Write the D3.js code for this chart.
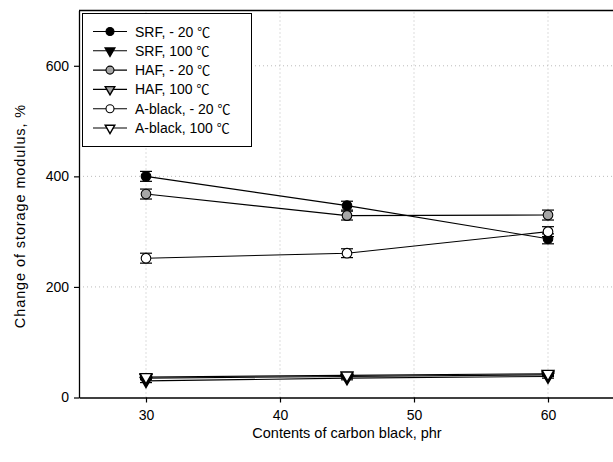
<!DOCTYPE html>
<html><head><meta charset="utf-8">
<script src="https://cdn.jsdelivr.net/npm/d3@7/dist/d3.min.js"></script>
<style>body{margin:0;background:#fff}svg{display:block;font-family:"Liberation Sans",Arial,sans-serif}</style>
</head><body><svg id="c" width="613" height="462"></svg>
<script>
const contents = [30, 45, 60];
const seriesNames = ["SRF, - 20 ","SRF, 100 ","HAF, - 20 ","HAF, 100 ","A-black, - 20 ","A-black, 100 "];
const unitLabel = "\u2103";
const srfCold = [400, 347, 287];
const srfHot = [30, 35, 38];
const hafCold = [368, 329, 330];
const hafHot = [35, 38, 41];
const ablackCold = [252, 261, 300];
const ablackHot = [37, 40, 43];
const errCold = [9, 8, 9];
const errHot = [3, 3, 3];
const xTicks = [30, 40, 50, 60];
const yTicks = [0, 200, 400, 600];

const series = [
  {name: seriesNames[0], v: srfCold, err: errCold, shape: "circle", fill: "#000"},
  {name: seriesNames[1], v: srfHot, err: errHot, shape: "tri", fill: "#000"},
  {name: seriesNames[2], v: hafCold, err: errCold, shape: "circle", fill: "#a6a6a6"},
  {name: seriesNames[3], v: hafHot, err: errHot, shape: "tri", fill: "#a6a6a6"},
  {name: seriesNames[4], v: ablackCold, err: errCold, shape: "circle", fill: "#fff"},
  {name: seriesNames[5], v: ablackHot, err: errHot, shape: "tri", fill: "#fff"}
];

const svg = d3.select("#c");
const x = d3.scaleLinear().domain([25, 65]).range([79, 615]);
const y = d3.scaleLinear().domain([0, 700]).range([397.5, 10.5]);

// grid
const g = svg.append("g");
g.selectAll(".vg").data(xTicks).enter().append("line")
  .attr("x1", d => x(d)).attr("x2", d => x(d)).attr("y1", y(0)).attr("y2", y(700))
  .attr("stroke", "#bbb").attr("stroke-width", 1).attr("stroke-dasharray", "1,3");
g.selectAll(".hg").data(yTicks.filter(d => d > 0)).enter().append("line")
  .attr("x1", x(25)).attr("x2", x(65)).attr("y1", d => y(d)).attr("y2", d => y(d))
  .attr("stroke", "#bbb").attr("stroke-width", 1).attr("stroke-dasharray", "1,3");

// axes
const xa = svg.append("g").attr("transform", `translate(0,${y(0)})`)
  .call(d3.axisBottom(x).tickValues(xTicks).tickSize(5).tickSizeOuter(0).tickPadding(8));
const ya = svg.append("g").attr("transform", `translate(${x(25)},0)`)
  .call(d3.axisLeft(y).tickValues(yTicks).tickSize(5).tickSizeOuter(0).tickPadding(5));
[xa, ya].forEach(a => {
  a.select(".domain").attr("stroke", "#000").attr("stroke-width", 1.3);
  a.selectAll(".tick line").attr("stroke", "#000").attr("stroke-width", 1.2);
  a.selectAll("text").attr("font-size", 14).attr("fill", "#000").attr("font-family", "Liberation Sans, Arial, sans-serif");
});
// top frame
svg.append("line").attr("x1", x(25)).attr("x2", 613).attr("y1", y(700)).attr("y2", y(700))
  .attr("stroke", "#000").attr("stroke-width", 1.6);

// axis titles
svg.append("text").attr("x", 347).attr("y", 438).attr("text-anchor", "middle")
  .attr("font-size", 14.5).text("Contents of carbon black, phr");
svg.append("text").attr("transform", `translate(25,${(y(0)+y(700))/2+12}) rotate(-90)`)
  .attr("text-anchor", "middle").attr("font-size", 14.5).attr("letter-spacing", 0.9)
  .text("Change of storage modulus, %");

const triBig = d3.symbol().type(d3.symbolTriangle).size(60);
const triSmall = d3.symbol().type(d3.symbolTriangle).size(40);
function marker(sel, s, cx, cy, small) {
  if (s.shape === "circle") {
    sel.append("circle").attr("cx", cx).attr("cy", cy).attr("r", small ? 4 : 4.8)
      .attr("fill", s.fill).attr("stroke", "#000").attr("stroke-width", 1.1);
  } else {
    sel.append("path").attr("d", small ? triSmall : triBig).attr("transform", `translate(${cx},${cy}) rotate(180)`)
      .attr("fill", s.fill).attr("stroke", "#000").attr("stroke-width", 1.4);
  }
}

const line = d3.line().x((d, i) => x(contents[i])).y(d => y(d));
const plot = svg.append("g");
series.forEach(s => {
  plot.append("path").attr("d", line(s.v)).attr("fill", "none").attr("stroke", "#000").attr("stroke-width", 1.1);
});
series.forEach(s => {
  s.v.forEach((v, i) => {
    const cx = x(contents[i]);
    const e = s.err[i];
    plot.append("line").attr("x1", cx).attr("x2", cx).attr("y1", y(v - e)).attr("y2", y(v + e)).attr("stroke", "#000").attr("stroke-width", 1);
    [v - e, v + e].forEach(t => plot.append("line").attr("x1", cx - 6).attr("x2", cx + 6).attr("y1", y(t)).attr("y2", y(t)).attr("stroke", "#000").attr("stroke-width", 1.2));
  });
});
series.forEach(s => {
  s.v.forEach((v, i) => marker(plot, s, x(contents[i]), y(v), false));
});

// legend
const lg = svg.append("g");
lg.append("rect").attr("x", 82.5).attr("y", 13.5).attr("width", 169).attr("height", 133)
  .attr("fill", "#fff").attr("stroke", "#000").attr("stroke-width", 1);
series.forEach((s, i) => {
  const ly = 31.5 + i * 19.3;
  lg.append("line").attr("x1", 93).attr("x2", 127).attr("y1", ly).attr("y2", ly).attr("stroke", "#000").attr("stroke-width", 1.1);
  marker(lg, s, 110, ly, true);
  const t = lg.append("text").attr("x", 135).attr("y", ly + 5).attr("font-size", 14);
  t.append("tspan").text(s.name);
  t.append("tspan").attr("font-family", "Noto Sans CJK KR").attr("font-size", 13).text(unitLabel);
});
</script></body></html>
